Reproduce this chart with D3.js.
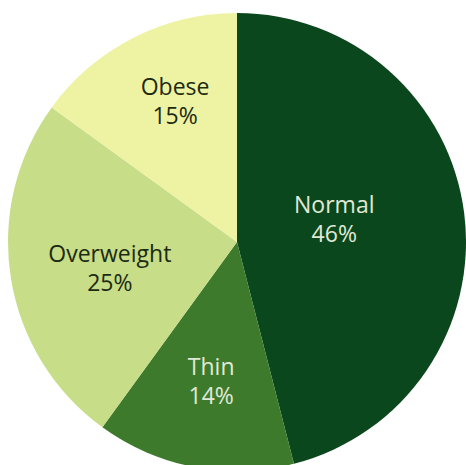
<!DOCTYPE html>
<html>
<head>
<meta charset="utf-8">
<script src="https://cdn.jsdelivr.net/npm/d3@7"></script>
<style>
  html, body { margin: 0; padding: 0; background: #ffffff; }
  svg { display: block; }
</style>
</head>
<body>
<svg id="chart" width="466" height="465"></svg>
<script>
// Data
const categories = ["Normal", "Thin", "Overweight", "Obese"];
const values = [46, 14, 25, 15];
const valueLabels = ["46%", "14%", "25%", "15%"];
const sliceColors = ["#0b471c", "#3e7a2c", "#c7dd87", "#eef3a3"];
const textColors = ["#e0e9d6", "#e0e9d6", "#1c2a12", "#1c2a12"];
// label placement (polar: angle in degrees clockwise from top, radius fraction)
const labelAngles = [81, 190, 255, 335];
const labelRadii = [0.43, 0.65, 0.575, 0.64];

const width = 466, height = 465;
const cx = 237, cy = 242, R = 229;

const svg = d3.select("#chart");
const g = svg.append("g").attr("transform", `translate(${cx},${cy})`);

const pie = d3.pie().sort(null).value(d => d.value);
const data = categories.map((c, i) => ({
  name: c, value: values[i], pct: valueLabels[i],
  color: sliceColors[i], text: textColors[i],
  la: labelAngles[i], lr: labelRadii[i]
}));
const arcs = pie(data);
const arc = d3.arc().innerRadius(0).outerRadius(R);

g.selectAll("path.slice")
  .data(arcs)
  .join("path")
  .attr("class", "slice")
  .attr("d", arc)
  .attr("fill", d => d.data.color);

const labels = g.selectAll("g.label")
  .data(arcs)
  .join("g")
  .attr("class", "label")
  .attr("transform", d => {
    const a = d.data.la * Math.PI / 180;
    const r = d.data.lr * R;
    return `translate(${r * Math.sin(a)},${-r * Math.cos(a)})`;
  });

labels.append("text")
  .attr("text-anchor", "middle")
  .attr("y", -14)
  .attr("font-family", "'Open Sans', 'Noto Sans', sans-serif")
  .attr("font-size", 23)
  .attr("fill", d => d.data.text)
  .text(d => d.data.name);

labels.append("text")
  .attr("text-anchor", "middle")
  .attr("y", 15)
  .attr("font-family", "'Open Sans', 'Noto Sans', sans-serif")
  .attr("font-size", 23)
  .attr("fill", d => d.data.text)
  .text(d => d.data.pct);
</script>
</body>
</html>
